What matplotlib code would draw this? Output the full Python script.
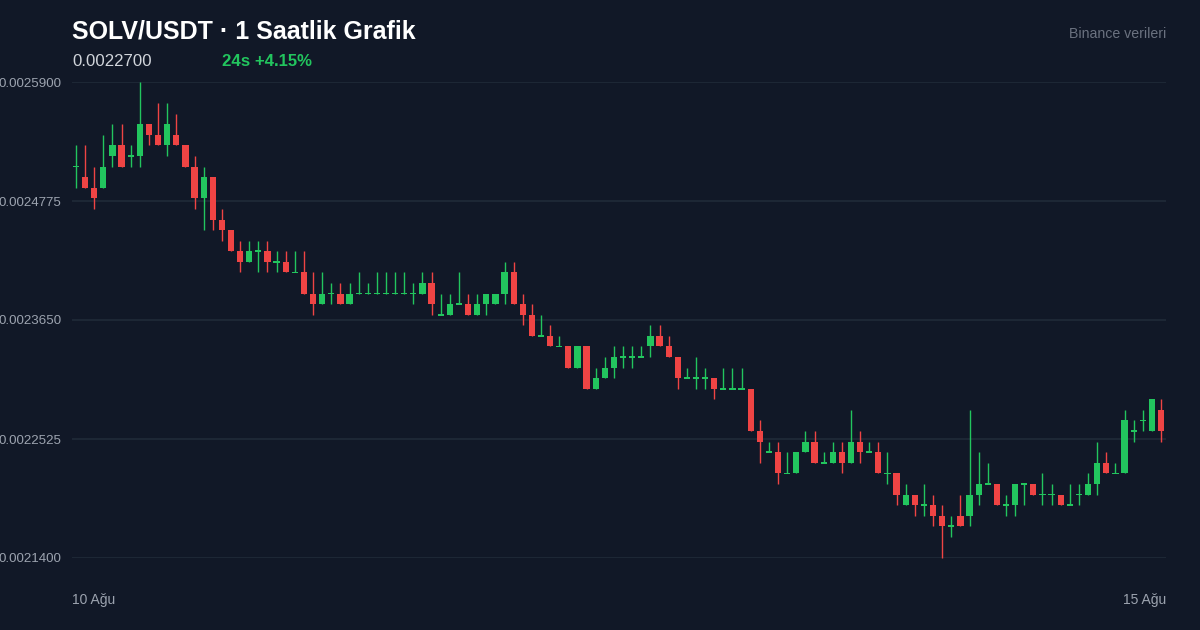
import matplotlib
matplotlib.use("Agg")
import matplotlib.pyplot as plt
import numpy as np

# ---- data (price values, SOLV/USDT 1h candles) ----
opens = [0.00251, 0.00250, 0.00249, 0.00249, 0.00252, 0.00253, 0.00252, 0.00252, 0.00255, 0.00254,
         0.00253, 0.00254, 0.00253, 0.00251, 0.00248, 0.00250, 0.00246, 0.00245, 0.00243, 0.00242,
         0.00243, 0.00243, 0.00242, 0.00242, 0.00241, 0.00241, 0.00239, 0.00238, 0.00239, 0.00239,
         0.00238, 0.00239, 0.00239, 0.00239, 0.00239, 0.00239, 0.00239, 0.00239, 0.00239, 0.00240,
         0.00237, 0.00237, 0.00238, 0.00238, 0.00237, 0.00238, 0.00238, 0.00239, 0.00241, 0.00238,
         0.00237, 0.00235, 0.00235, 0.00234, 0.00234, 0.00232, 0.00234, 0.00230, 0.00231, 0.00232,
         0.00233, 0.00233, 0.00233, 0.00234, 0.00235, 0.00234, 0.00233, 0.00231, 0.00231, 0.00231,
         0.00231, 0.00230, 0.00230, 0.00230, 0.00230, 0.00226, 0.00224, 0.00224, 0.00222, 0.00222,
         0.00224, 0.00225, 0.00223, 0.00223, 0.00224, 0.00223, 0.00225, 0.00224, 0.00224, 0.00222,
         0.00222, 0.00219, 0.00220, 0.00219, 0.00219, 0.00218, 0.00217, 0.00218, 0.00218, 0.00220,
         0.00221, 0.00221, 0.00219, 0.00219, 0.00221, 0.00221, 0.00220, 0.00220, 0.00220, 0.00219,
         0.00220, 0.00220, 0.00221, 0.00223, 0.00222, 0.00222, 0.00226, 0.00227, 0.00226, 0.00228]
highs = [0.00253, 0.00253, 0.00251, 0.00254, 0.00255, 0.00255, 0.00253, 0.00259, 0.00255, 0.00257,
         0.00257, 0.00256, 0.00253, 0.00252, 0.00251, 0.00250, 0.00247, 0.00245, 0.00244, 0.00244,
         0.00244, 0.00244, 0.00243, 0.00243, 0.00243, 0.00243, 0.00241, 0.00241, 0.00240, 0.00240,
         0.00240, 0.00241, 0.00240, 0.00241, 0.00241, 0.00241, 0.00241, 0.00240, 0.00241, 0.00241,
         0.00239, 0.00239, 0.00241, 0.00239, 0.00239, 0.00239, 0.00239, 0.00242, 0.00242, 0.00239,
         0.00238, 0.00237, 0.00236, 0.00235, 0.00234, 0.00234, 0.00234, 0.00232, 0.00233, 0.00234,
         0.00234, 0.00234, 0.00234, 0.00236, 0.00236, 0.00235, 0.00233, 0.00232, 0.00233, 0.00232,
         0.00231, 0.00232, 0.00232, 0.00232, 0.00230, 0.00227, 0.00225, 0.00225, 0.00224, 0.00224,
         0.00226, 0.00226, 0.00224, 0.00225, 0.00225, 0.00228, 0.00226, 0.00225, 0.00225, 0.00224,
         0.00222, 0.00221, 0.00220, 0.00221, 0.00220, 0.00219, 0.00218, 0.00220, 0.00228, 0.00224,
         0.00223, 0.00221, 0.00220, 0.00221, 0.00221, 0.00221, 0.00222, 0.00221, 0.00220, 0.00221,
         0.00221, 0.00222, 0.00225, 0.00224, 0.00223, 0.00228, 0.00227, 0.00228, 0.00229, 0.00229]
lows = [0.00249, 0.00249, 0.00247, 0.00249, 0.00251, 0.00251, 0.00251, 0.00251, 0.00253, 0.00253,
        0.00252, 0.00253, 0.00251, 0.00247, 0.00245, 0.00245, 0.00244, 0.00243, 0.00241, 0.00242,
        0.00241, 0.00241, 0.00241, 0.00241, 0.00241, 0.00239, 0.00237, 0.00238, 0.00238, 0.00238,
        0.00238, 0.00239, 0.00239, 0.00239, 0.00239, 0.00239, 0.00239, 0.00238, 0.00239, 0.00237,
        0.00237, 0.00237, 0.00238, 0.00237, 0.00237, 0.00237, 0.00238, 0.00238, 0.00238, 0.00236,
        0.00235, 0.00235, 0.00234, 0.00234, 0.00232, 0.00232, 0.00230, 0.00230, 0.00231, 0.00231,
        0.00232, 0.00232, 0.00233, 0.00233, 0.00234, 0.00233, 0.00230, 0.00231, 0.00230, 0.00230,
        0.00229, 0.00230, 0.00230, 0.00230, 0.00226, 0.00223, 0.00224, 0.00221, 0.00222, 0.00222,
        0.00224, 0.00223, 0.00223, 0.00223, 0.00222, 0.00223, 0.00223, 0.00224, 0.00222, 0.00221,
        0.00219, 0.00219, 0.00218, 0.00218, 0.00217, 0.00214, 0.00216, 0.00217, 0.00217, 0.00219,
        0.00221, 0.00219, 0.00218, 0.00218, 0.00219, 0.00220, 0.00219, 0.00219, 0.00219, 0.00219,
        0.00219, 0.00220, 0.00220, 0.00222, 0.00222, 0.00222, 0.00225, 0.00226, 0.00226, 0.00225]
closes = [0.00251, 0.00249, 0.00248, 0.00251, 0.00253, 0.00251, 0.00252, 0.00255, 0.00254, 0.00253,
          0.00255, 0.00253, 0.00251, 0.00248, 0.00250, 0.00246, 0.00245, 0.00243, 0.00242, 0.00243,
          0.00243, 0.00242, 0.00242, 0.00241, 0.00241, 0.00239, 0.00238, 0.00239, 0.00239, 0.00238,
          0.00239, 0.00239, 0.00239, 0.00239, 0.00239, 0.00239, 0.00239, 0.00239, 0.00240, 0.00238,
          0.00237, 0.00238, 0.00238, 0.00237, 0.00238, 0.00239, 0.00239, 0.00241, 0.00238, 0.00237,
          0.00235, 0.00235, 0.00234, 0.00234, 0.00232, 0.00234, 0.00230, 0.00231, 0.00232, 0.00233,
          0.00233, 0.00233, 0.00233, 0.00235, 0.00234, 0.00233, 0.00231, 0.00231, 0.00231, 0.00231,
          0.00230, 0.00230, 0.00230, 0.00230, 0.00226, 0.00225, 0.00224, 0.00222, 0.00222, 0.00224,
          0.00225, 0.00223, 0.00223, 0.00224, 0.00223, 0.00225, 0.00224, 0.00224, 0.00222, 0.00222,
          0.00220, 0.00220, 0.00219, 0.00219, 0.00218, 0.00217, 0.00217, 0.00217, 0.00220, 0.00221,
          0.00221, 0.00219, 0.00219, 0.00221, 0.00221, 0.00220, 0.00220, 0.00220, 0.00219, 0.00219,
          0.00220, 0.00221, 0.00223, 0.00222, 0.00222, 0.00227, 0.00226, 0.00227, 0.00229, 0.00226]

y_ticks = [0.0021400, 0.0022525, 0.0023650, 0.0024775, 0.0025900]
x_labels = ["10 Ağu", "15 Ağu"]
title = "SOLV/USDT · 1 Saatlik Grafik"
last_price = "0.0022700"
change_text = "24s +4.15%"
source_text = "Binance verileri"

# ---- style ----
BG = "#111827"
GRID = "#1f2937"
UP = "#22c55e"
DOWN = "#ef4444"
TICK = "#9ca3af"
FONT = ["Liberation Sans", "DejaVu Sans"]
plt.rcParams["font.family"] = FONT

W, H, DPI = 1200, 630, 100
fig = plt.figure(figsize=(W / DPI, H / DPI), dpi=DPI, facecolor=BG)
ax = fig.add_axes([72 / W, 1 - 558 / H, (1166 - 72) / W, (558 - 82) / H], facecolor=BG)

n = len(opens)
x = np.arange(n)
o = np.array(opens); c = np.array(closes); hi = np.array(highs); lo = np.array(lows)
up = c >= o
colors = np.where(up, UP, DOWN)

ymin, ymax = y_ticks[0], y_ticks[-1]
px_per_price = (558 - 82) / (ymax - ymin)
min_h = 1.6 / px_per_price

ax.vlines(x, lo, hi, colors=colors, linewidth=1.0, zorder=2, clip_on=False)
body_bottom = np.minimum(o, c)
body_h = np.abs(c - o)
is_doji = body_h < min_h
body_h_draw = np.where(is_doji, min_h, body_h)
body_bottom_draw = np.where(is_doji, body_bottom - min_h / 2, body_bottom)
ax.bar(x, body_h_draw, bottom=body_bottom_draw, width=0.68, color=colors,
       linewidth=0, zorder=3, clip_on=False)

ax.set_xlim(-(76 - 72) / 9.118, (n - 1) + (1166 - 1161) / 9.118)
ax.set_ylim(ymin, ymax)
ax.set_yticks(y_ticks)
ax.set_yticklabels([f"{v:.7f}" for v in y_ticks])
ax.set_xticks([])
ax.tick_params(axis="y", length=0, pad=7.3, labelsize=9.6, labelcolor=TICK)
ax.grid(axis="y", color=GRID, linewidth=1.3, zorder=0)
ax.set_axisbelow(True)
for s in ax.spines.values():
    s.set_visible(False)

# ---- header texts ----
fig.text(72 / W, 1 - 38.5 / H, title, fontsize=18.0, fontweight="bold", color="#ffffff",
         ha="left", va="baseline")
fig.text(72 / W, 1 - 66 / H, last_price, fontsize=12.1, color="#d1d5db",
         ha="left", va="baseline")
fig.text(222 / W, 1 - 66 / H, change_text, fontsize=12.1, fontweight="bold", color=UP,
         ha="left", va="baseline")
fig.text(1166 / W, 1 - 38 / H, source_text, fontsize=10.2, color="#6b7280",
         ha="right", va="baseline")

# ---- x labels ----
fig.text(72 / W, 1 - 604 / H, x_labels[0], fontsize=10, color=TICK, ha="left", va="baseline")
fig.text(1166 / W, 1 - 604 / H, x_labels[1], fontsize=10, color=TICK, ha="right", va="baseline")

fig.savefig("out.png", dpi=DPI, facecolor=BG)
